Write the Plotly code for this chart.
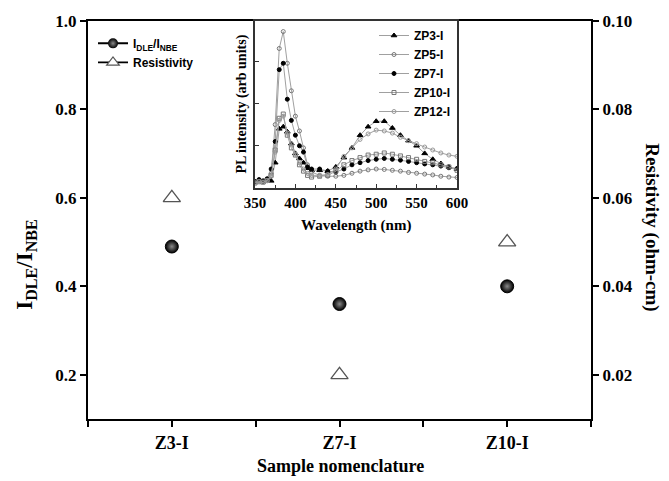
import plotly.graph_objects as go

# ---------------- main data ----------------
samples = ["Z3-I", "Z7-I", "Z10-I"]
idle_inbe = [0.49, 0.36, 0.40]
resistivity = [0.060, 0.020, 0.050]

left_ticks = [0.2, 0.4, 0.6, 0.8, 1.0]
right_ticks = [0.02, 0.04, 0.06, 0.08, 0.10]

# ---------------- inset data (PL spectra) ----------------
wavelength = [350, 355, 360, 365, 370, 375, 380, 385, 390, 395, 400, 405, 410, 415, 420,
              430, 440, 450, 460, 470, 480, 490, 500, 510, 520, 530, 540, 550, 560, 570,
              580, 590, 600]
zp3 = [0.15, 0.18, 0.15, 0.20, 0.17, 0.60, 1.40, 1.45, 1.33, 1.05, 0.82, 0.70, 0.60, 0.47, 0.42,
       0.42, 0.40, 0.50, 0.72, 0.95, 1.25, 1.45, 1.58, 1.58, 1.42, 1.25, 1.12, 1.00, 0.82, 0.68,
       0.58, 0.50, 0.45]
zp5 = [0.15, 0.18, 0.16, 0.20, 0.35, 1.50, 3.30, 3.70, 2.95, 2.30, 1.70, 1.35, 0.95, 0.55, 0.38,
       0.30, 0.28, 0.28, 0.30, 0.35, 0.40, 0.43, 0.45, 0.44, 0.42, 0.40, 0.37, 0.35, 0.33, 0.31,
       0.28, 0.26, 0.25]
zp7 = [0.15, 0.20, 0.17, 0.22, 0.45, 1.10, 2.80, 2.95, 2.10, 1.60, 1.25, 1.00, 0.85, 0.50, 0.45,
       0.45, 0.40, 0.38, 0.45, 0.55, 0.60, 0.65, 0.68, 0.70, 0.68, 0.66, 0.63, 0.60, 0.57, 0.55,
       0.52, 0.48, 0.46]
zp10 = [0.12, 0.15, 0.14, 0.18, 0.30, 0.90, 1.65, 1.75, 1.25, 0.95, 0.78, 0.55, 0.40, 0.30, 0.26,
        0.28, 0.30, 0.40, 0.55, 0.65, 0.72, 0.78, 0.80, 0.83, 0.80, 0.76, 0.72, 0.68, 0.63, 0.60,
        0.55, 0.50, 0.42]
zp12 = [0.12, 0.15, 0.13, 0.17, 0.28, 0.85, 1.60, 1.70, 1.30, 1.05, 0.80, 0.60, 0.45, 0.35, 0.30,
        0.30, 0.32, 0.45, 0.75, 0.95, 1.15, 1.28, 1.37, 1.35, 1.30, 1.20, 1.12, 1.05, 0.97, 0.90,
        0.83, 0.78, 0.75]
inset_names = ["ZP3-I", "ZP5-I", "ZP7-I", "ZP10-I", "ZP12-I"]
inset_series = [zp3, zp5, zp7, zp10, zp12]
inset_symbols = ["triangle-up", "circle-open", "circle", "square-open", "circle-open"]
inset_mcolors = ["black", "#777", "black", "#777", "#999"]
inset_msizes = [5, 4, 4, 4, 4]

# ---------------- geometry helpers ----------------
W, H = 669, 481
L, R, T, B = 88, 591, 14, 419


def px(xp):
    return (xp - L) / (R - L)


def py(yp):
    return (B - yp) / (B - T)


serif = "Liberation Serif"
sans = "Liberation Sans"
xpos = [1, 2, 3]

fig = go.Figure()

# main data
fig.add_trace(go.Scatter(
    x=xpos, y=idle_inbe, mode="markers", showlegend=False,
    marker=dict(symbol="circle", size=13, color="black",
                gradient=dict(type="radial", color="#8a8a8a"),
                line=dict(color="black", width=1)),
    xaxis="x", yaxis="y"))
fig.add_trace(go.Scatter(
    x=xpos, y=resistivity, mode="markers", showlegend=False,
    marker=dict(symbol="triangle-up-open", size=15, color="#555",
                line=dict(color="#555", width=1.3)),
    xaxis="x", yaxis="y2"))

# legend entries for main
fig.add_trace(go.Scatter(
    x=[None], y=[None], mode="lines+markers", name="I<sub>DLE</sub>/I<sub>NBE</sub>",
    line=dict(color="black", width=2),
    marker=dict(symbol="circle", size=10, color="black",
                gradient=dict(type="radial", color="#8a8a8a")),
    legend="legend", xaxis="x", yaxis="y"))
fig.add_trace(go.Scatter(
    x=[None], y=[None], mode="lines+markers", name="Resistivity",
    line=dict(color="black", width=1.8),
    marker=dict(symbol="triangle-up", size=11, color="white",
                line=dict(color="#555", width=1.2)),
    legend="legend", xaxis="x", yaxis="y2"))

# inset spectra
for name, ys, sym, mc, ms in zip(inset_names, inset_series, inset_symbols, inset_mcolors, inset_msizes):
    fig.add_trace(go.Scatter(
        x=wavelength, y=ys, mode="lines+markers", name=name,
        line=dict(color="#a0a0a0", width=1),
        marker=dict(symbol=sym, size=ms, color=mc, line=dict(color=mc, width=1)),
        legend="legend2", xaxis="x3", yaxis="y3"))

tickfont = dict(family=serif, size=17, color="black")

fig.update_layout(
    width=W, height=H,
    margin=dict(l=L, r=W - R, t=T, b=H - B, pad=0),
    paper_bgcolor="white", plot_bgcolor="white",
    showlegend=True,
    xaxis=dict(
        domain=[0, 1], range=[0.5, 3.5],
        tickmode="array",
        tickvals=[0.5, 1, 1.5, 2, 2.5, 3, 3.5],
        ticktext=["", samples[0], "", samples[1], "", samples[2], ""],
        ticks="outside", ticklen=6, tickwidth=2, tickcolor="black",
        showline=True, linewidth=2, linecolor="black", mirror=True,
        showgrid=False, zeroline=False,
        tickfont=dict(family=serif, size=18, color="black"),
    ),
    yaxis=dict(
        domain=[0, 1], range=[0.1, 1.0],
        tickmode="array", tickvals=left_ticks,
        ticktext=[f"{v:.1f}" for v in left_ticks],
        ticks="outside", ticklen=6, tickwidth=2, tickcolor="black",
        showline=True, linewidth=2, linecolor="black",
        showgrid=False, zeroline=False, tickfont=tickfont,
    ),
    yaxis2=dict(
        overlaying="y", side="right", anchor="x", range=[0.01, 0.10],
        tickmode="array", tickvals=right_ticks,
        ticktext=[f"{v:.2f}" for v in right_ticks],
        ticks="outside", ticklen=6, tickwidth=2, tickcolor="black",
        showline=True, linewidth=2, linecolor="black",
        showgrid=False, zeroline=False, tickfont=tickfont,
    ),
    xaxis3=dict(
        domain=[px(255), px(457)], anchor="y3", range=[350, 600],
        tickmode="array", tickvals=[350, 400, 450, 500, 550, 600],
        minor=dict(tickvals=[375, 425, 475, 525, 575], ticks="inside", ticklen=3,
                   tickwidth=1, tickcolor="#333"),
        ticks="inside", ticklen=4, tickwidth=1, tickcolor="#333",
        showline=True, linewidth=1.5, linecolor="#333", mirror=True,
        showgrid=False, zeroline=False,
        tickfont=dict(family=serif, size=15, color="black"),
    ),
    yaxis3=dict(
        domain=[py(184), 1.0], anchor="x3", range=[0, 3.95],
        tickmode="array", tickvals=[1, 2, 3],
        ticks="inside", ticklen=4, tickwidth=1, tickcolor="#333",
        showticklabels=False,
        showline=True, linewidth=1.5, linecolor="#333", mirror=True,
        showgrid=False, zeroline=False,
    ),
    legend=dict(
        x=px(93), y=py(22), xanchor="left", yanchor="top",
        bgcolor="rgba(0,0,0,0)", borderwidth=0,
        font=dict(family=sans, size=12, color="black"),
        itemwidth=30, tracegroupgap=0,
    ),
    legend2=dict(
        x=px(374), y=py(14), xanchor="left", yanchor="top",
        bgcolor="rgba(0,0,0,0)", borderwidth=0,
        font=dict(family=sans, size=12, color="black"),
        itemwidth=30, tracegroupgap=0,
    ),
    annotations=[
        dict(text="Sample nomenclature", x=px(340), y=py(467), xref="paper", yref="paper",
             showarrow=False, xanchor="center", yanchor="middle",
             font=dict(family=serif, size=18, color="black")),
        dict(text="<b>I<sub>DLE</sub>/I<sub>NBE</sub></b>", x=px(26), y=py(262),
             xref="paper", yref="paper", showarrow=False, textangle=-90,
             xanchor="center", yanchor="middle",
             font=dict(family=serif, size=23, color="black")),
        dict(text="Resistivity (ohm-cm)", x=px(652), y=py(224), xref="paper", yref="paper",
             showarrow=False, textangle=90, xanchor="center", yanchor="middle",
             font=dict(family=serif, size=19, color="black")),
        dict(text="Wavelength (nm)", x=px(356), y=py(222), xref="paper", yref="paper",
             showarrow=False, xanchor="center", yanchor="middle",
             font=dict(family=serif, size=15, color="black")),
        dict(text="PL intensity (arb units)", x=px(242), y=py(99), xref="paper", yref="paper",
             showarrow=False, textangle=-90, xanchor="center", yanchor="middle",
             font=dict(family=serif, size=14, color="black")),
    ],
)

# bold for all text via font weight
fig.update_layout(font=dict(family=serif, color="black", weight="bold"))
for ax in ["xaxis", "yaxis", "yaxis2", "xaxis3"]:
    fig.layout[ax].tickfont.weight = "bold"
for a in fig.layout.annotations:
    a.font.weight = "bold"
fig.layout.legend.font.weight = "bold"
fig.layout.legend2.font.weight = "bold"

fig.write_html("out.html")
